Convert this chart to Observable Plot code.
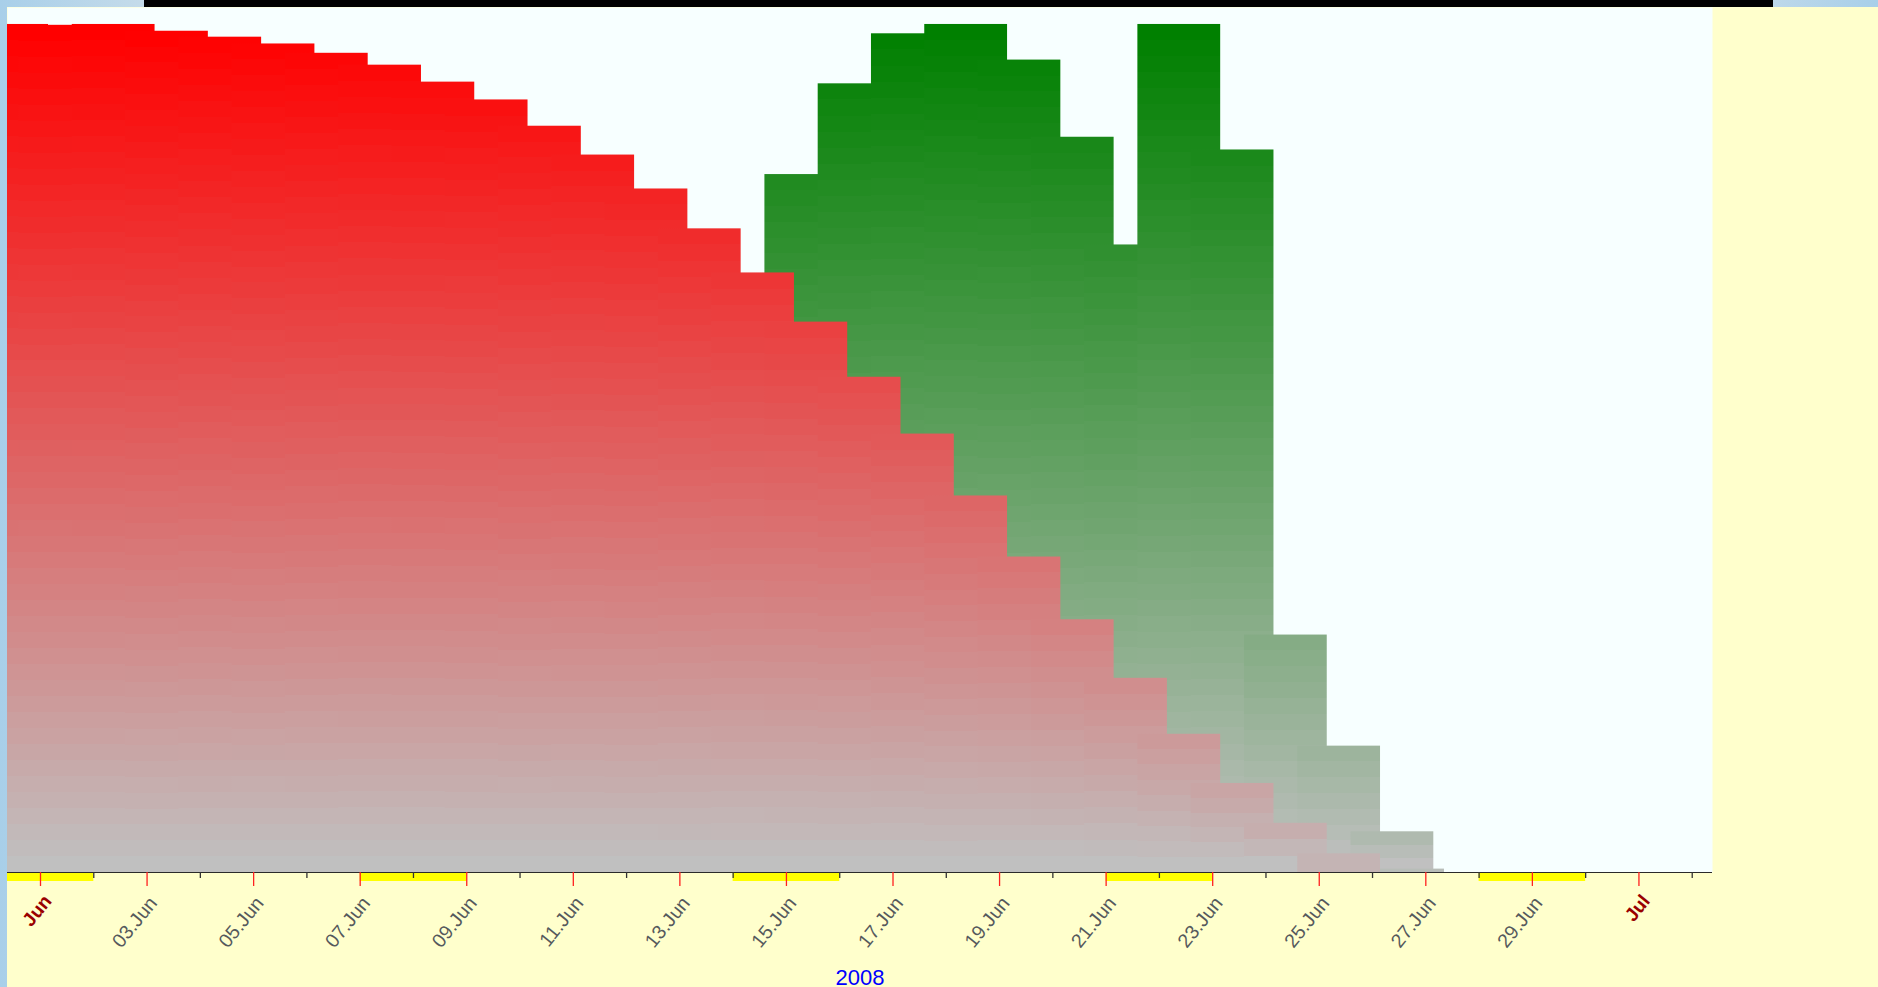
<!DOCTYPE html>
<html><head><meta charset="utf-8">
<script src="https://cdn.jsdelivr.net/npm/d3@7"></script>
<script src="https://cdn.jsdelivr.net/npm/@observablehq/plot@0.6"></script>
<style>
html,body{margin:0;padding:0}
body{width:1878px;height:987px;overflow:hidden;position:relative;background:linear-gradient(90deg,#a8cfe9 0%,#c6dcea 8%,#dde9ee 50%,#c6dcea 92%,#a8cfe9 100%);font-family:"Liberation Sans",Arial,sans-serif}
#topbar{position:absolute;left:144px;top:0;width:1629px;height:7px;background:#000}
#panel{position:absolute;left:7px;top:7px;width:1871px;height:980px;background:#ffffcc}
#chart{position:absolute;left:7px;top:7px}
</style></head><body>
<div id="topbar"></div><div id="panel"></div><div id="chart"></div>
<script>
// ---- data ----
const redDates = ["2008-05-31","2008-06-01","2008-06-02","2008-06-03","2008-06-04","2008-06-05","2008-06-06","2008-06-07","2008-06-08","2008-06-09","2008-06-10","2008-06-11","2008-06-12","2008-06-13","2008-06-14","2008-06-15","2008-06-16","2008-06-17","2008-06-18","2008-06-19","2008-06-20","2008-06-21","2008-06-22","2008-06-23","2008-06-24","2008-06-25"];
const redValues = [100,99.9,100,99.2,98.5,97.7,96.6,95.2,93.2,91.1,88.0,84.6,80.6,75.9,70.7,64.9,58.4,51.7,44.4,37.2,29.8,22.9,16.3,10.5,5.8,2.2];
const greenDates = ["2008-06-15","2008-06-16","2008-06-17","2008-06-18","2008-06-19","2008-06-20","2008-06-21","2008-06-22","2008-06-23","2008-06-24","2008-06-25","2008-06-26","2008-06-26T04:48"];
const greenValues = [82.3,93.0,98.9,100,95.8,86.7,74.0,100,85.2,28.0,14.9,4.8,0.4];
const labelTicks = ["2008-06-01","2008-06-03","2008-06-05","2008-06-07","2008-06-09","2008-06-11","2008-06-13","2008-06-15","2008-06-17","2008-06-19","2008-06-21","2008-06-23","2008-06-25","2008-06-27","2008-06-29","2008-07-01"];
const minorTicks = ["2008-06-02","2008-06-04","2008-06-06","2008-06-08","2008-06-10","2008-06-12","2008-06-14","2008-06-16","2008-06-18","2008-06-20","2008-06-22","2008-06-24","2008-06-26","2008-06-28","2008-06-30","2008-07-02"];
const weekendStarts = ["2008-05-31","2008-06-07","2008-06-14","2008-06-21","2008-06-28"];
const yearLabel = "2008";

// ---- helpers ----
const H = 3600e3, DAY = 24 * H;
const parse = s => new Date(s.length > 10 ? s + ":00Z" : s + "T00:00:00Z");
const domainStart = new Date(Date.UTC(2008, 4, 31, 9, 8));
const domainEnd = new Date(+domainStart + 32 * DAY);
const BAR_X1 = -9.7 * H, BAR_X2 = 27.6 * H;
const fmtDay = d3.utcFormat("%d.%b");
const fmtMonth = d3.utcFormat("%b");
const isMonth = s => parse(s).getUTCDate() === 1;

const red = redDates.map((d, i) => ({d: parse(d), v: redValues[i]}));
const green = greenDates.map((d, i) => ({d: parse(d), v: greenValues[i]}));
const RED = "#ff0000", GREEN = "#008000";

const chart = Plot.plot({
  width: 1871, height: 980,
  marginLeft: 0, marginRight: 166, marginTop: 0, marginBottom: 115,
  style: {background: "transparent", fontFamily: "'Liberation Sans', Arial, sans-serif", overflow: "visible"},
  x: {type: "utc", domain: [domainStart, domainEnd], axis: null},
  y: {domain: [0, 102], axis: null},
  marks: [
    Plot.frame({fill: "#f7ffff", stroke: null}),
    Plot.rect(green, {x1: d => new Date(+d.d + BAR_X1), x2: d => new Date(+d.d + BAR_X2), y1: 0, y2: "v", fill: GREEN, clip: true}),
    Plot.rect(red, {x1: d => new Date(+d.d + BAR_X1), x2: d => new Date(+d.d + BAR_X2), y1: 0, y2: "v", fill: RED, clip: true}),
    Plot.rect(weekendStarts, {x1: d => new Date(Math.max(+parse(d), +domainStart)), x2: d => new Date(+parse(d) + 2 * DAY), y1: 0, y2: 0, insetTop: 1, insetBottom: -9, fill: "#ffff00"}),
    Plot.ruleY([0], {stroke: "#2a2a2a", strokeWidth: 1}),
    Plot.ruleX(labelTicks, {x: d => parse(d), y1: 0, y2: 0, insetBottom: -14, stroke: "#ff2020", strokeWidth: 1.3}),
    Plot.ruleX(minorTicks, {x: d => parse(d), y1: 0, y2: 0, insetBottom: -6, stroke: "#333", strokeWidth: 1.3}),
    Plot.text(labelTicks.filter(s => !isMonth(s)), {x: d => parse(d), frameAnchor: "bottom", text: d => fmtDay(parse(d)), rotate: -51, textAnchor: "end", dx: 11, dy: 31, fontSize: 19.5, fill: "#55595c"}),
    Plot.text(labelTicks.filter(isMonth), {x: d => parse(d), frameAnchor: "bottom", text: d => fmtMonth(parse(d)), rotate: -51, textAnchor: "end", dx: 12, dy: 29, fontSize: 19, fontWeight: "bold", fill: "#990000"}),
    Plot.text([yearLabel], {frameAnchor: "bottom", dy: 112, fontSize: 22, fill: "#0000ff"})
  ]
});
document.getElementById("chart").appendChild(chart);

// ---- banded vertical gradients (stepped per bar, so neighbouring bars show faint seams) ----
try {
  const ys = chart.scale("y");
  const yTop = ys.apply(100), yBot = ys.apply(0);
  const svg = d3.select(chart);
  const defs = svg.insert("defs", ":first-child");
  const BAND = 16, TOPK = 0.96;
  const paint = (topColor, key) => {
    const interp = d3.interpolateRgb(topColor, "#c0c0c0");
    svg.selectAll("rect").filter(function() {
      const p = this.closest("g[fill]");
      return p && p.getAttribute("fill") === topColor;
    }).each(function(_, j) {
      const r = d3.select(this);
      const y0 = +r.attr("y"), h = +r.attr("height");
      if (!(h > 0)) return;
      const id = `${key}-g${j}`;
      const g = defs.append("linearGradient").attr("id", id).attr("gradientUnits", "userSpaceOnUse")
        .attr("x1", 0).attr("x2", 0).attr("y1", y0).attr("y2", y0 + h);
      const t0 = TOPK * Math.min(1, Math.max(0, (y0 - yTop) / (yBot - yTop)));
      const n = Math.max(1, Math.round(h / BAND));
      for (let b = 0; b < n; b++) {
        const a = b / n, c = (b + 1) / n;
        const t = t0 + (1 - t0) * (b / Math.max(1, n - 1));
        const col = interp(Math.min(1, t));
        g.append("stop").attr("offset", a).attr("stop-color", col);
        g.append("stop").attr("offset", c).attr("stop-color", col);
      }
      r.attr("fill", `url(#${id})`);
    });
  };
  paint(GREEN, "gr");
  paint(RED, "rd");
} catch (e) { console.error(e); }
</script>
</body></html>
